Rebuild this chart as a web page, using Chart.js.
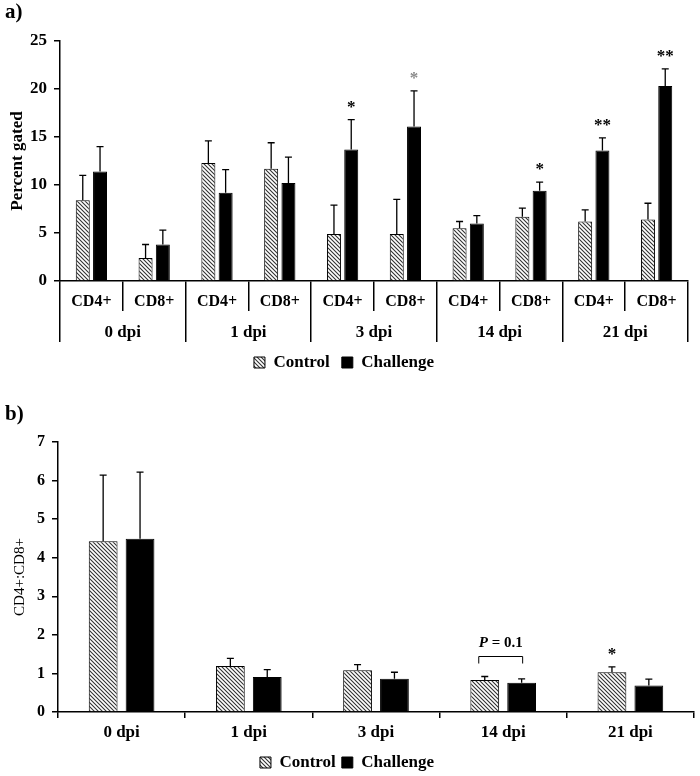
<!DOCTYPE html>
<html>
<head>
<meta charset="utf-8">
<script src="https://cdn.jsdelivr.net/npm/chart.js@4.4.0/dist/chart.umd.min.js"></script>
<style>
  html, body { margin: 0; padding: 0; background: #fff; overflow: hidden; }
  canvas { display: block; }
</style>
</head>
<body>
<canvas id="chartA" width="700" height="381"></canvas>
<canvas id="chartB" width="700" height="400"></canvas>
<script>
// panel a) - percent gated, per subset and day
const subsets = ["CD4+", "CD8+", "CD4+", "CD8+", "CD4+", "CD8+", "CD4+", "CD8+", "CD4+", "CD8+"];
const days = ["0 dpi", "1 dpi", "3 dpi", "14 dpi", "21 dpi"];
const controlPct = [8.4, 2.4, 12.3, 11.7, 4.9, 4.9, 5.5, 6.7, 6.2, 6.4];
const controlPctSE = [2.6, 1.4, 2.3, 2.7, 3.0, 3.6, 0.7, 0.9, 1.2, 1.7];
const challengePct = [11.4, 3.8, 9.2, 10.2, 13.7, 16.1, 6.0, 9.4, 13.6, 20.3];
const challengePctSE = [2.6, 1.5, 2.4, 2.7, 3.1, 3.7, 0.8, 0.9, 1.3, 1.8];
const challengePctMarks = ["", "", "", "", "*", "*", "", "*", "**", "**"];
const challengePctMarkColors = ["#000", "#000", "#000", "#000", "#000", "#8a8a8a", "#000", "#000", "#000", "#000"];
const pctTicks = { min: 0, max: 25, step: 5 };

// panel b) - CD4+:CD8+ ratio per day
const controlRatio = [4.43, 1.19, 1.08, 0.83, 1.03];
const controlRatioSE = [1.71, 0.20, 0.15, 0.09, 0.14];
const challengeRatio = [4.49, 0.91, 0.86, 0.76, 0.69];
const challengeRatioSE = [1.73, 0.19, 0.17, 0.10, 0.16];
const controlRatioMarks = ["", "", "", "", "*"];
const ratioTicks = { min: 0, max: 7, step: 1 };
const bracketDay = 3;
const bracketText = ["P", " = 0.1"];

const serif = "'Liberation Serif', 'Times New Roman', serif";
Chart.defaults.font.family = serif;
Chart.defaults.color = "#000";

function makeHatch(canvas) {
  const c = document.createElement("canvas");
  c.width = 4;
  c.height = 4;
  const g = c.getContext("2d");
  g.fillStyle = "#fff";
  g.fillRect(0, 0, 4, 4);
  g.strokeStyle = "#333";
  g.lineWidth = 1.1;
  g.beginPath();
  g.moveTo(0, 0); g.lineTo(4, 4);
  g.moveTo(-1, 3); g.lineTo(1, 5);
  g.moveTo(3, -1); g.lineTo(5, 1);
  g.stroke();
  return canvas.getContext("2d").createPattern(c, "repeat");
}

// error bars + significance marks above them
const errorBars = {
  id: "errorBars",
  afterDatasetsDraw(chart) {
    const ctx = chart.ctx;
    const y = chart.scales.y;
    ctx.save();
    chart.data.datasets.forEach((ds, i) => {
      chart.getDatasetMeta(i).data.forEach((bar, j) => {
        const top = y.getPixelForValue(ds.data[j] + ds.errors[j]);
        ctx.strokeStyle = "#000";
        ctx.lineWidth = 1.3;
        ctx.beginPath();
        ctx.moveTo(bar.x, bar.y);
        ctx.lineTo(bar.x, top);
        ctx.moveTo(bar.x - 3.5, top);
        ctx.lineTo(bar.x + 3.5, top);
        ctx.stroke();
        const mark = ds.marks && ds.marks[j];
        if (mark) {
          ctx.fillStyle = ds.markColors ? ds.markColors[j] : "#000";
          ctx.font = "bold 17px " + serif;
          ctx.textAlign = "center";
          ctx.textBaseline = "alphabetic";
          ctx.fillText(mark, bar.x, top - 8);
        }
      });
    });
    ctx.restore();
  },
};

// two-row category labels for panel a)
const groupLabels = {
  id: "groupLabels",
  afterDraw(chart) {
    const ctx = chart.ctx;
    const x = chart.scales.x;
    const x2 = chart.scales.x2;
    ctx.save();
    ctx.fillStyle = "#000";
    ctx.textAlign = "center";
    ctx.textBaseline = "middle";
    ctx.font = "bold 16px " + serif;
    subsets.forEach((s, i) => ctx.fillText(s, x.getPixelForValue(i), x.top + 21));
    ctx.font = "bold 17px " + serif;
    days.forEach((d, i) => ctx.fillText(d, x2.getPixelForValue(i), x2.top + 22));
    ctx.restore();
  },
};

const pBracket = {
  id: "pBracket",
  afterDatasetsDraw(chart) {
    const ctx = chart.ctx;
    const y = chart.scales.y;
    const a = chart.getDatasetMeta(0).data[bracketDay];
    const b = chart.getDatasetMeta(1).data[bracketDay];
    const hi = Math.max(controlRatio[bracketDay] + controlRatioSE[bracketDay],
                        challengeRatio[bracketDay] + challengeRatioSE[bracketDay]);
    const top = y.getPixelForValue(hi) - 20;
    const x1 = a.x - 6, x2 = b.x + 1;
    ctx.save();
    ctx.strokeStyle = "#000";
    ctx.lineWidth = 1;
    ctx.beginPath();
    ctx.moveTo(x1, top + 7);
    ctx.lineTo(x1, top);
    ctx.lineTo(x2, top);
    ctx.lineTo(x2, top + 7);
    ctx.stroke();
    ctx.fillStyle = "#000";
    ctx.textBaseline = "middle";
    ctx.textAlign = "left";
    const f1 = "italic bold 15px " + serif;
    const f2 = "bold 15px " + serif;
    ctx.font = f1;
    const w1 = ctx.measureText(bracketText[0]).width;
    ctx.font = f2;
    const w2 = ctx.measureText(bracketText[1]).width;
    const sx = (x1 + x2) / 2 - (w1 + w2) / 2;
    ctx.font = f1;
    ctx.fillText(bracketText[0], sx, top - 13);
    ctx.font = f2;
    ctx.fillText(bracketText[1], sx + w1, top - 13);
    ctx.restore();
  },
};

function panelLabel(text, x, y) {
  return {
    id: "panelLabel",
    afterDraw(chart) {
      const ctx = chart.ctx;
      ctx.save();
      ctx.fillStyle = "#000";
      ctx.font = "bold 21px " + serif;
      ctx.textAlign = "left";
      ctx.textBaseline = "middle";
      ctx.fillText(text, x, y);
      ctx.restore();
    },
  };
}

const axisGrid = (len) => ({ drawOnChartArea: false, tickLength: len, color: "#000", lineWidth: 1.5, offset: true });
const axisBorder = { color: "#000", width: 1.5 };
const legendOpts = (pad) => ({
  position: "bottom",
  labels: { boxWidth: 11, boxHeight: 11, padding: pad, color: "#000", font: { size: 17, weight: "bold" } },
});

const canvasA = document.getElementById("chartA");
new Chart(canvasA, {
  type: "bar",
  data: {
    labels: subsets,
    datasets: [
      { label: "Control", data: controlPct, errors: controlPctSE, backgroundColor: makeHatch(canvasA), borderColor: "#000", borderWidth: 1 },
      { label: "Challenge", data: challengePct, errors: challengePctSE, marks: challengePctMarks, markColors: challengePctMarkColors, backgroundColor: "#000", borderColor: "#000", borderWidth: 1 },
    ],
  },
  options: {
    responsive: false,
    animation: false,
    layout: { padding: { top: 41, right: 12, left: 0, bottom: 0 } },
    datasets: { bar: { categoryPercentage: 0.55, barPercentage: 0.81 } },
    scales: {
      x: {
        grid: axisGrid(30),
        border: axisBorder,
        ticks: { display: false },
        afterFit(s) { s.height = 30; },
      },
      x2: {
        type: "category",
        labels: days,
        position: "bottom",
        offset: true,
        grid: axisGrid(31),
        border: { display: false },
        ticks: { display: false },
        afterFit(s) { s.height = 31; },
      },
      y: {
        min: pctTicks.min,
        max: pctTicks.max,
        ticks: { stepSize: pctTicks.step, padding: 7, color: "#000", font: { size: 17, weight: "bold" } },
        grid: { drawOnChartArea: false, tickLength: 6, color: "#000", lineWidth: 1.5 },
        border: axisBorder,
        title: { display: true, text: "Percent gated", color: "#000", font: { size: 17, weight: "bold" }, padding: { top: 7, bottom: 0 } },
        afterFit(s) { s.width = 60; },
      },
    },
    plugins: { legend: legendOpts(12), tooltip: { enabled: false } },
  },
  plugins: [errorBars, groupLabels, panelLabel("a)", 5, 13)],
});

const canvasB = document.getElementById("chartB");
new Chart(canvasB, {
  type: "bar",
  data: {
    labels: days,
    datasets: [
      { label: "Control", data: controlRatio, errors: controlRatioSE, marks: controlRatioMarks, backgroundColor: makeHatch(canvasB), borderColor: "#000", borderWidth: 1 },
      { label: "Challenge", data: challengeRatio, errors: challengeRatioSE, backgroundColor: "#000", borderColor: "#000", borderWidth: 1 },
    ],
  },
  options: {
    responsive: false,
    animation: false,
    layout: { padding: { top: 61, right: 6, left: 0, bottom: 0 } },
    datasets: { bar: { categoryPercentage: 0.58, barPercentage: 0.78 } },
    scales: {
      x: {
        grid: axisGrid(6),
        border: axisBorder,
        ticks: { padding: 4, color: "#000", font: { size: 17, weight: "bold" } },
        afterFit(s) { s.height = 36; },
      },
      y: {
        min: ratioTicks.min,
        max: ratioTicks.max,
        ticks: { stepSize: ratioTicks.step, padding: 7, color: "#000", font: { size: 16, weight: "bold" } },
        grid: { drawOnChartArea: false, tickLength: 6, color: "#000", lineWidth: 1.5 },
        border: axisBorder,
        title: { display: true, text: "CD4+:CD8+", color: "#000", font: { size: 15 }, padding: { top: 11, bottom: 0 } },
        afterFit(s) { s.width = 58; },
      },
    },
    plugins: { legend: legendOpts(6), tooltip: { enabled: false } },
  },
  plugins: [errorBars, pBracket, panelLabel("b)", 5, 34)],
});
</script>
</body>
</html>
